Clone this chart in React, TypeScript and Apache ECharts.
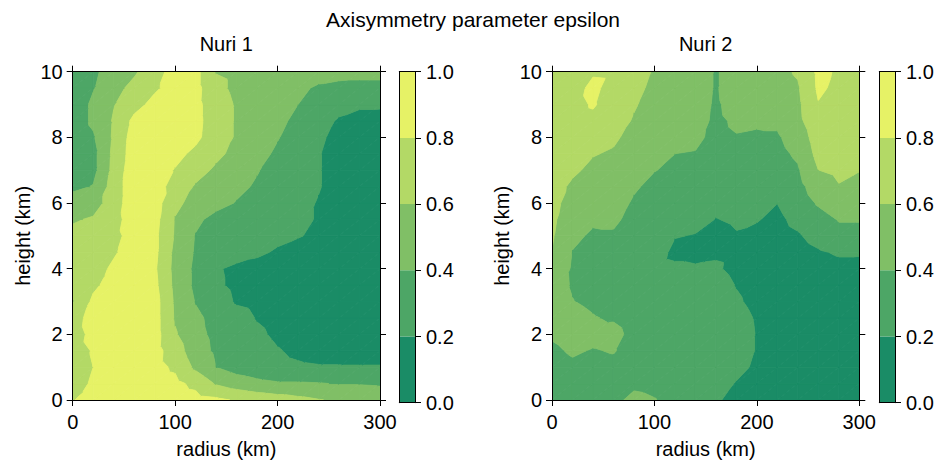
import { useEffect, useRef } from "react";
import * as echarts from "echarts";

// ---------------- data ----------------
const radiusKm = [0, 20, 40, 60, 80, 100, 120, 140, 160, 180, 200, 220, 240, 260, 280, 300];
const heightKm = [0, 0.5, 1, 1.5, 2, 2.5, 3, 3.5, 4, 4.5, 5, 5.5, 6, 6.5, 7, 7.5, 8, 8.5, 9, 9.5, 10];
const contourLevels = [0, 0.2, 0.4, 0.6, 0.8, 1.0];
const colorbarTicks = [0, 0.2, 0.4, 0.6, 0.8, 1.0];
const levelColors = ["#1a8c66", "#4da666", "#80bf66", "#b3d966", "#e6f266"];
const panelTitles = ["Nuri 1", "Nuri 2"];
const mainTitle = "Axisymmetry parameter epsilon";

// Nuri 1: one row per height (0 .. 10 km), one value per radius (0 .. 300 km)
const nuri1Rows: number[][] = [
  [0.79, 0.88, 0.90, 0.90, 0.90, 0.90, 0.87, 0.84, 0.78, 0.73, 0.69, 0.65, 0.61, 0.57, 0.53, 0.50],
  [0.77, 0.81, 0.88, 0.90, 0.88, 0.85, 0.75, 0.58, 0.50, 0.45, 0.42, 0.42, 0.41, 0.39, 0.39, 0.38],
  [0.75, 0.80, 0.87, 0.90, 0.86, 0.77, 0.56, 0.40, 0.32, 0.28, 0.24, 0.22, 0.21, 0.21, 0.21, 0.21],
  [0.74, 0.81, 0.87, 0.90, 0.87, 0.70, 0.48, 0.37, 0.32, 0.27, 0.21, 0.17, 0.15, 0.14, 0.13, 0.13],
  [0.72, 0.85, 0.88, 0.90, 0.88, 0.62, 0.45, 0.36, 0.29, 0.23, 0.17, 0.14, 0.12, 0.11, 0.10, 0.10],
  [0.70, 0.89, 0.88, 0.90, 0.88, 0.58, 0.44, 0.34, 0.27, 0.19, 0.15, 0.12, 0.10, 0.10, 0.10, 0.10],
  [0.59, 0.84, 0.87, 0.90, 0.88, 0.57, 0.39, 0.29, 0.18, 0.15, 0.13, 0.11, 0.10, 0.10, 0.10, 0.10],
  [0.64, 0.76, 0.88, 0.89, 0.85, 0.55, 0.36, 0.23, 0.16, 0.13, 0.11, 0.10, 0.10, 0.10, 0.10, 0.10],
  [0.70, 0.73, 0.83, 0.88, 0.83, 0.54, 0.36, 0.22, 0.16, 0.14, 0.12, 0.10, 0.10, 0.10, 0.10, 0.10],
  [0.68, 0.71, 0.78, 0.88, 0.85, 0.55, 0.38, 0.33, 0.28, 0.23, 0.18, 0.14, 0.12, 0.10, 0.10, 0.10],
  [0.65, 0.70, 0.75, 0.87, 0.85, 0.58, 0.39, 0.34, 0.30, 0.27, 0.24, 0.21, 0.17, 0.13, 0.10, 0.10],
  [0.58, 0.62, 0.72, 0.91, 0.87, 0.59, 0.44, 0.34, 0.33, 0.30, 0.26, 0.23, 0.19, 0.13, 0.10, 0.10],
  [0.50, 0.52, 0.69, 0.94, 0.89, 0.64, 0.54, 0.46, 0.39, 0.34, 0.29, 0.25, 0.19, 0.14, 0.10, 0.10],
  [0.35, 0.41, 0.69, 0.93, 0.88, 0.73, 0.58, 0.51, 0.44, 0.38, 0.32, 0.26, 0.21, 0.14, 0.10, 0.10],
  [0.30, 0.34, 0.66, 0.93, 0.88, 0.79, 0.67, 0.57, 0.49, 0.41, 0.34, 0.27, 0.21, 0.14, 0.10, 0.10],
  [0.30, 0.34, 0.65, 0.90, 0.90, 0.85, 0.76, 0.64, 0.55, 0.46, 0.37, 0.29, 0.21, 0.14, 0.10, 0.10],
  [0.30, 0.38, 0.63, 0.89, 0.90, 0.90, 0.84, 0.70, 0.58, 0.49, 0.41, 0.32, 0.23, 0.15, 0.11, 0.10],
  [0.30, 0.43, 0.62, 0.85, 0.90, 0.90, 0.85, 0.71, 0.58, 0.51, 0.44, 0.36, 0.27, 0.18, 0.13, 0.12],
  [0.30, 0.43, 0.59, 0.73, 0.86, 0.90, 0.85, 0.70, 0.58, 0.52, 0.46, 0.40, 0.33, 0.26, 0.23, 0.23],
  [0.30, 0.39, 0.53, 0.66, 0.77, 0.88, 0.86, 0.66, 0.55, 0.50, 0.47, 0.43, 0.38, 0.36, 0.36, 0.36],
  [0.30, 0.37, 0.47, 0.57, 0.72, 0.88, 0.86, 0.59, 0.55, 0.52, 0.50, 0.48, 0.46, 0.45, 0.44, 0.44],
];

// Nuri 2: one column per radius (0 .. 300 km), one value per height (0 .. 10 km)
const nuri2Columns: number[][] = [
  [0.30, 0.30, 0.33, 0.37, 0.42, 0.45, 0.48, 0.48, 0.55, 0.595, 0.62, 0.64, 0.66, 0.67, 0.68, 0.69, 0.70, 0.71, 0.72, 0.72, 0.72],
  [0.30, 0.33, 0.37, 0.42, 0.46, 0.45, 0.405, 0.385, 0.38, 0.395, 0.43, 0.47, 0.52, 0.57, 0.63, 0.67, 0.70, 0.72, 0.73, 0.70, 0.73],
  [0.32, 0.33, 0.35, 0.39, 0.45, 0.41, 0.37, 0.34, 0.33, 0.35, 0.38, 0.42, 0.46, 0.50, 0.56, 0.61, 0.70, 0.75, 0.82, 0.86, 0.77],
  [0.35, 0.35, 0.36, 0.41, 0.46, 0.38, 0.33, 0.32, 0.32, 0.34, 0.38, 0.43, 0.47, 0.50, 0.55, 0.58, 0.63, 0.70, 0.71, 0.70, 0.76],
  [0.45, 0.36, 0.33, 0.34, 0.34, 0.31, 0.31, 0.31, 0.31, 0.32, 0.33, 0.35, 0.38, 0.42, 0.48, 0.51, 0.54, 0.58, 0.62, 0.66, 0.70],
  [0.41, 0.34, 0.31, 0.31, 0.30, 0.30, 0.29, 0.28, 0.27, 0.30, 0.29, 0.30, 0.33, 0.36, 0.405, 0.43, 0.47, 0.50, 0.52, 0.55, 0.58],
  [0.32, 0.30, 0.30, 0.30, 0.29, 0.28, 0.28, 0.27, 0.24, 0.15, 0.21, 0.27, 0.30, 0.34, 0.37, 0.40, 0.45, 0.47, 0.50, 0.53, 0.55],
  [0.23, 0.24, 0.25, 0.26, 0.27, 0.28, 0.28, 0.27, 0.22, 0.15, 0.19, 0.26, 0.29, 0.33, 0.36, 0.39, 0.44, 0.48, 0.50, 0.52, 0.54],
  [0.22, 0.27, 0.30, 0.32, 0.33, 0.33, 0.32, 0.30, 0.23, 0.17, 0.15, 0.195, 0.24, 0.27, 0.30, 0.33, 0.35, 0.36, 0.37, 0.38, 0.38],
  [0.15, 0.19, 0.25, 0.28, 0.30, 0.28, 0.23, 0.19, 0.14, 0.15, 0.19, 0.22, 0.26, 0.29, 0.33, 0.36, 0.39, 0.43, 0.48, 0.52, 0.50],
  [0.10, 0.13, 0.17, 0.19, 0.19, 0.18, 0.14, 0.12, 0.11, 0.12, 0.16, 0.21, 0.25, 0.29, 0.32, 0.35, 0.38, 0.42, 0.47, 0.50, 0.52],
  [0.08, 0.08, 0.09, 0.09, 0.09, 0.09, 0.09, 0.09, 0.09, 0.10, 0.13, 0.16, 0.202, 0.26, 0.31, 0.35, 0.38, 0.43, 0.50, 0.53, 0.55],
  [0.08, 0.08, 0.08, 0.08, 0.08, 0.08, 0.08, 0.08, 0.09, 0.12, 0.18, 0.25, 0.30, 0.34, 0.38, 0.43, 0.48, 0.55, 0.56, 0.58, 0.62],
  [0.08, 0.08, 0.08, 0.08, 0.08, 0.08, 0.08, 0.09, 0.12, 0.18, 0.27, 0.33, 0.42, 0.50, 0.598, 0.66, 0.70, 0.74, 0.79, 0.83, 0.84],
  [0.10, 0.10, 0.10, 0.10, 0.10, 0.10, 0.10, 0.11, 0.15, 0.22, 0.35, 0.41, 0.50, 0.59, 0.64, 0.68, 0.72, 0.74, 0.75, 0.76, 0.78],
  [0.10, 0.10, 0.10, 0.10, 0.10, 0.10, 0.10, 0.11, 0.14, 0.22, 0.35, 0.41, 0.48, 0.55, 0.605, 0.66, 0.70, 0.72, 0.73, 0.74, 0.74],
];

// ---------------- helpers ----------------
const FONT = "'Liberation Sans', Arial, Helvetica, sans-serif";
const FS = 20;

type Pt = [number, number, number];

function clipByLevel(poly: Pt[], level: number, keepAbove: boolean): Pt[] {
  const out: Pt[] = [];
  const n = poly.length;
  for (let i = 0; i < n; i++) {
    const a = poly[i];
    const b = poly[(i + 1) % n];
    const ina = keepAbove ? a[2] >= level : a[2] <= level;
    const inb = keepAbove ? b[2] >= level : b[2] <= level;
    if (ina) out.push(a);
    if (ina !== inb) {
      const t = (level - a[2]) / (b[2] - a[2]);
      out.push([a[0] + t * (b[0] - a[0]), a[1] + t * (b[1] - a[1]), level]);
    }
  }
  return out;
}

function contourSeries(getValue: (i: number, j: number) => number, axisIndex: number) {
  const cells: number[][] = [];
  for (let j = 0; j < heightKm.length - 1; j++) {
    for (let i = 0; i < radiusKm.length - 1; i++) cells.push([i, j]);
  }
  return {
    type: "custom",
    xAxisIndex: axisIndex,
    yAxisIndex: axisIndex,
    silent: true,
    clip: true,
    z: 2,
    data: cells,
    renderItem: (_params: any, api: any) => {
      const i = api.value(0) as number;
      const j = api.value(1) as number;
      const a: Pt = [radiusKm[i], heightKm[j], getValue(i, j)];
      const b: Pt = [radiusKm[i + 1], heightKm[j], getValue(i + 1, j)];
      const c: Pt = [radiusKm[i + 1], heightKm[j + 1], getValue(i + 1, j + 1)];
      const d: Pt = [radiusKm[i], heightKm[j + 1], getValue(i, j + 1)];
      const children: any[] = [];
      const tris: Pt[][] = [
        [a, b, c],
        [a, c, d],
      ];
      for (const tri of tris) {
        for (let k = 0; k < levelColors.length; k++) {
          let poly: Pt[] = tri;
          if (k > 0) poly = clipByLevel(poly, contourLevels[k], true);
          if (k < levelColors.length - 1) poly = clipByLevel(poly, contourLevels[k + 1], false);
          if (poly.length < 3) continue;
          const points = poly.map((p) => api.coord([p[0], p[1]]));
          children.push({
            type: "polygon",
            shape: { points },
            style: { fill: levelColors[k], stroke: levelColors[k], lineWidth: 0.9 },
          });
        }
      }
      return { type: "group", children };
    },
  };
}

const axisLine = { show: true, onZero: false, lineStyle: { color: "#000", width: 1 } };
const tickOut = { show: true, inside: false, length: 6, lineStyle: { color: "#000", width: 1 } };
const labelStyle = { color: "#000", fontSize: FS, fontFamily: FONT };
const nameStyle = { color: "#000", fontSize: FS, fontFamily: FONT };

function mainAxes(gridIndex: number) {
  const x = [
    {
      type: "value", gridIndex, min: 0, max: 300, interval: 100, position: "bottom", z: 10,
      axisLine, axisTick: tickOut, splitLine: { show: false },
      axisLabel: { ...labelStyle, margin: 12 },
      name: "radius (km)", nameLocation: "middle", nameGap: 39, nameTextStyle: nameStyle,
    },
    {
      type: "value", gridIndex, min: 0, max: 300, interval: 100, position: "top", z: 10,
      axisLine, axisTick: tickOut, splitLine: { show: false }, axisLabel: { show: false },
    },
  ];
  const y = [
    {
      type: "value", gridIndex, min: 0, max: 10, interval: 2, position: "left", z: 10,
      axisLine, axisTick: tickOut, splitLine: { show: false },
      axisLabel: { ...labelStyle, margin: 10 },
      name: "height (km)", nameLocation: "middle", nameGap: 40, nameTextStyle: nameStyle,
    },
    {
      type: "value", gridIndex, min: 0, max: 10, interval: 2, position: "right", z: 10,
      axisLine, axisTick: tickOut, splitLine: { show: false }, axisLabel: { show: false },
    },
  ];
  return { x, y };
}

function colorbarAxes(gridIndex: number) {
  const x = [
    {
      type: "category", gridIndex, data: [""], position: "bottom", z: 10,
      axisLine, axisTick: { show: false }, axisLabel: { show: false }, splitLine: { show: false },
    },
    {
      type: "category", gridIndex, data: [""], position: "top", z: 10,
      axisLine, axisTick: { show: false }, axisLabel: { show: false }, splitLine: { show: false },
    },
  ];
  const y = [
    {
      type: "value", gridIndex, min: 0, max: 1, interval: 0.2, position: "left", z: 10,
      axisLine, axisTick: { show: false }, axisLabel: { show: false }, splitLine: { show: false },
    },
    {
      type: "value", gridIndex, min: 0, max: 1, interval: 0.2, position: "right", z: 10,
      axisLine, axisTick: tickOut, splitLine: { show: false },
      axisLabel: { ...labelStyle, margin: 11, formatter: (v: number) => v.toFixed(1) },
    },
  ];
  return { x, y };
}

function colorbarSeries(xAxisIndex: number, yAxisIndex: number, stack: string) {
  return levelColors.map((color, k) => ({
    type: "bar",
    xAxisIndex,
    yAxisIndex,
    stack,
    barWidth: "100%",
    silent: true,
    z: 2,
    itemStyle: { color },
    data: [contourLevels[k + 1] - contourLevels[k]],
  }));
}

function textEl(text: string, x: number, y: number, size: number) {
  return {
    type: "text", x, y, z: 20,
    style: {
      text, font: `${size}px ${FONT}`, fill: "#000",
      align: "center", verticalAlign: "middle",
      textAlign: "center", textVerticalAlign: "middle",
    },
  };
}

export default function App() {
  const ref = useRef<HTMLDivElement>(null);

  useEffect(() => {
    if (!ref.current) return;
    const chart = echarts.init(ref.current, undefined, { renderer: "svg" });

    const m1 = mainAxes(0);
    const c1 = colorbarAxes(1);
    const m2 = mainAxes(2);
    const c2 = colorbarAxes(3);

    const option: any = {
      animation: false,
      backgroundColor: "#fff",
      grid: [
        { left: 72.7, top: 71.7, width: 307.3, height: 331 },
        { left: 399.3, top: 71.7, width: 15.7, height: 331 },
        { left: 552, top: 71.7, width: 307.3, height: 331 },
        { left: 879.3, top: 71.7, width: 15.7, height: 331 },
      ],
      xAxis: [...m1.x, ...c1.x, ...m2.x, ...c2.x],
      yAxis: [...m1.y, ...c1.y, ...m2.y, ...c2.y],
      series: [
        contourSeries((i, j) => nuri1Rows[j][i], 0),
        ...colorbarSeries(3, 3, "cb1"),
        contourSeries((i, j) => nuri2Columns[i][j], 4),
        ...colorbarSeries(7, 7, "cb2"),
      ],
      graphic: [
        textEl(mainTitle, 473, 19, 21),
        textEl(panelTitles[0], 226.3, 44, FS),
        textEl(panelTitles[1], 705.6, 44, FS),
      ],
    };

    option.yAxis[3].max = colorbarTicks[colorbarTicks.length - 1];
    option.yAxis[7].max = colorbarTicks[colorbarTicks.length - 1];

    chart.setOption(option);
    return () => chart.dispose();
  }, []);

  return (
    <div
      ref={ref}
      style={{ position: "absolute", left: 0, top: 0, width: 940, height: 464, background: "#fff" }}
    />
  );
}
